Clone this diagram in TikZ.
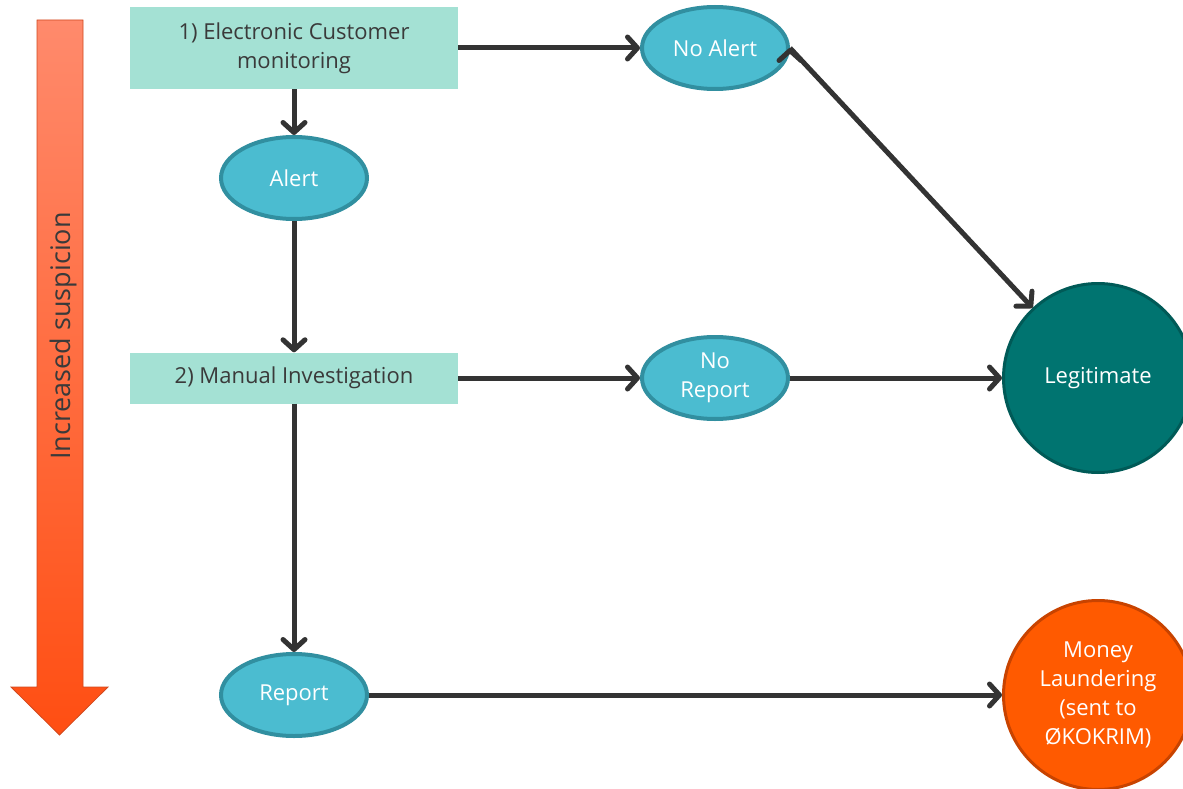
\documentclass[tikz,border=0pt]{standalone}
\usepackage{fontspec}
\setmainfont{Open Sans}
\usetikzlibrary{shapes.geometric,arrows.meta,positioning}
\definecolor{boxfill}{HTML}{A4E1D4}
\definecolor{ovalfill}{HTML}{4BBCD0}
\definecolor{ovalline}{HTML}{318FA0}
\definecolor{legitfill}{HTML}{007470}
\definecolor{legitline}{HTML}{005A57}
\definecolor{mlfill}{HTML}{FF5A00}
\definecolor{mlline}{HTML}{C84300}
\definecolor{linegray}{HTML}{333333}
\definecolor{textgray}{HTML}{3A3A3A}
\definecolor{arrowtop}{HTML}{FF8A6C}
\definecolor{arrowbot}{HTML}{FF4E12}
\definecolor{arrowedge}{HTML}{D04A20}
\begin{document}
\begin{tikzpicture}[x=1pt, y=1pt, font=\fontsize{22}{29}\selectfont,
    stepbox/.style={fill=boxfill, text=textgray, minimum width=328pt,
      align=center, inner sep=0pt},
    oval/.style={ellipse, draw=ovalline, line width=4pt, fill=ovalfill,
      text=white, minimum width=146pt, minimum height=82pt, inner sep=0pt,
      align=center},
    outcome/.style={circle, line width=3pt, minimum size=189pt, inner sep=0pt,
      text=white, align=center},
    flow/.style={draw=linegray, line width=5pt,
      -{Straight Barb[length=10pt, width=22pt, round]}}]
        \useasboundingbox (0,0) rectangle (1183,-789);
        % suspicion arrow on the left
        \shade[top color=arrowtop, bottom color=arrowbot, draw=arrowedge,
        line width=0.8pt] (37,-20) -- (83,-20) -- (83,-687) -- (108,-687)
        -- (59.5,-735) -- (11,-687) -- (37,-687) -- cycle;
        \node[rotate=90, text=textgray, font=\fontsize{27}{30}\selectfont]
        (susp) at (63,-336) {Increased suspicion};
        % flow
        \node[stepbox, minimum height=82pt] (ECM) at (294,-48)
        {\raisebox{-3pt}{1) Electronic Customer}\\\raisebox{-3pt}{monitoring}};
        \node[oval, below of=ECM, node distance=130pt] (Alert) {Alert};
        \node[oval, right of=ECM, node distance=421pt] (NoAlert) {No Alert};
        \node[stepbox, minimum height=51pt, below of=Alert,
        node distance=200pt] (MI) {2) Manual Investigation};
        \node[oval, right of=MI, node distance=421pt] (NoRep) {No\\Report};
        \node[outcome, fill=legitfill, draw=legitline, right of=NoRep,
        node distance=383pt] (Legit) {Legitimate};
        \node[oval, below of=MI, node distance=317pt] (Rep) {Report};
        \node[outcome, fill=mlfill, draw=mlline, below of=Legit,
        node distance=317pt] (ML) {Money\\Laundering\\(sent to\\ØKOKRIM)};
        \draw[flow] (ECM) edge (NoAlert);
        \draw[flow] (ECM) edge (Alert);
        \draw[flow] (NoAlert.east) edge (Legit);
        \draw[flow] (Alert) edge (MI);
        \draw[flow] (MI) edge (NoRep);
        \draw[flow] (NoRep) edge (Legit);
        \draw[flow] (MI) edge (Rep);
        \draw[flow] (Rep) edge (ML);
    \end{tikzpicture}
\end{document}
